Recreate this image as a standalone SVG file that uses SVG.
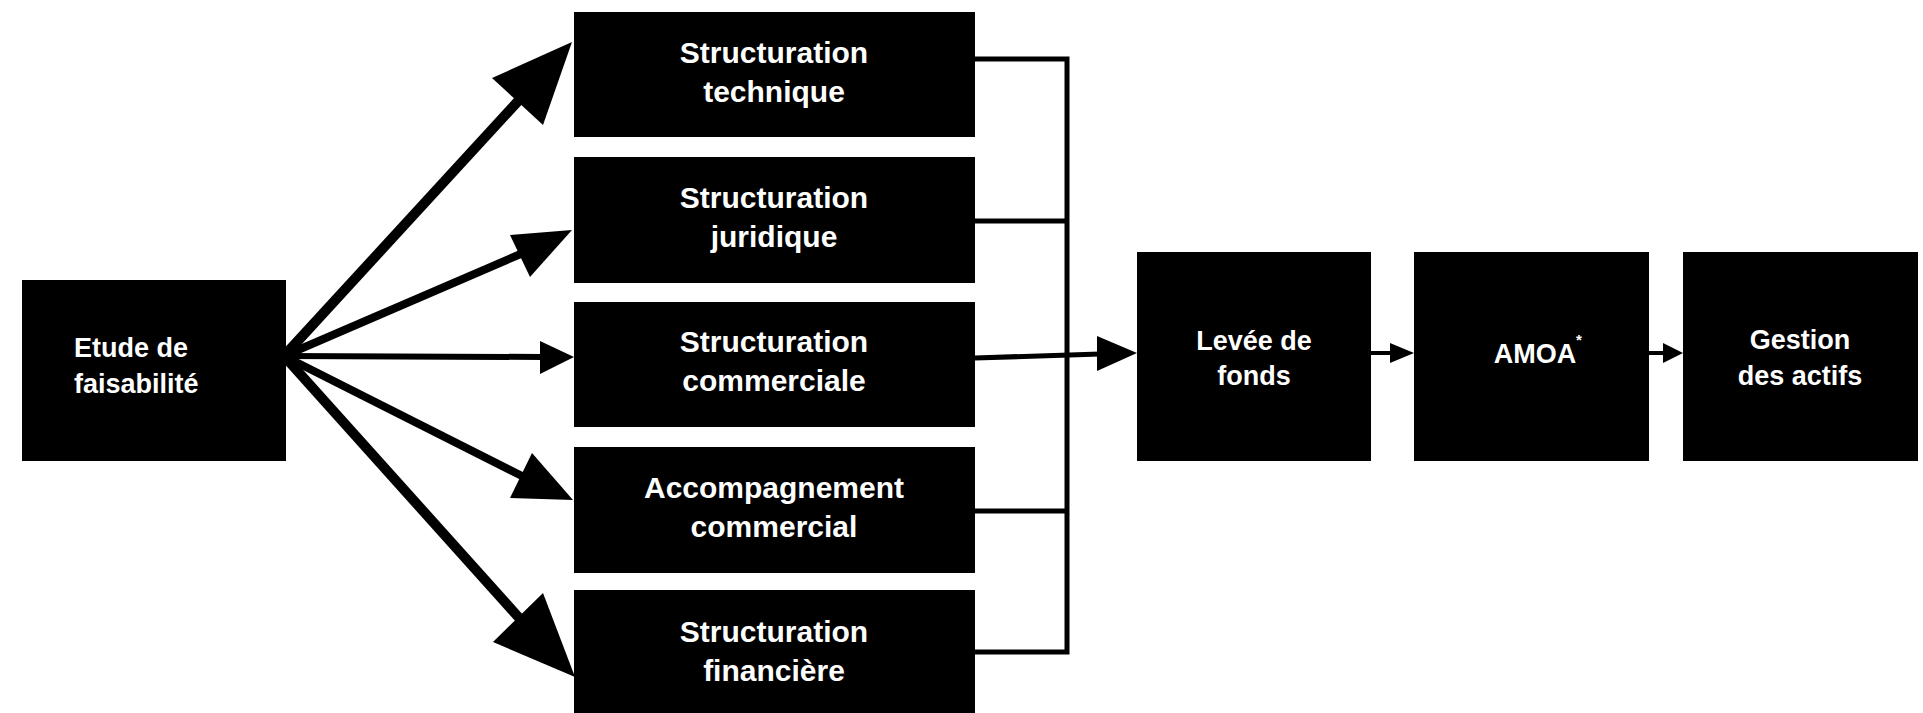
<svg xmlns="http://www.w3.org/2000/svg" width="1923" height="713" viewBox="0 0 1923 713">
<style>
.box{fill:#000}
.t{font-family:"Liberation Sans",Arial,Helvetica,sans-serif;font-weight:bold;fill:#fff;text-anchor:middle}
.m{font-size:30px}
.s{font-size:27px}
.ln{stroke:#000;fill:none;stroke-linecap:butt}
.hd{fill:#000}
</style>
<rect width="1923" height="713" fill="#fff"/>
<g id="connectors">
  <line class="ln" x1="284" y1="356" x2="520" y2="99" stroke-width="10"/>
  <polygon class="hd" points="572,42 492,78 543,125"/>
  <line class="ln" x1="284" y1="356" x2="523" y2="253" stroke-width="8"/>
  <polygon class="hd" points="572,230 510,235 530,277"/>
  <line class="ln" x1="284" y1="356" x2="542" y2="357" stroke-width="6"/>
  <polygon class="hd" points="574,357 540,341 540,374"/>
  <line class="ln" x1="284" y1="356" x2="524" y2="477" stroke-width="8"/>
  <polygon class="hd" points="573,500 532,453 510,498"/>
  <line class="ln" x1="284" y1="356" x2="521" y2="620" stroke-width="10"/>
  <polygon class="hd" points="575,677 543,593 493,642"/>
  <path class="ln" stroke-width="5" d="M975,59 H1067 V652 H975 M975,221 H1067 M975,511 H1067"/>
  <line class="ln" x1="975" y1="358" x2="1100" y2="354" stroke-width="5"/>
  <polygon class="hd" points="1137,353 1097,336 1097,371"/>
  <line class="ln" x1="1371" y1="353" x2="1393" y2="353" stroke-width="4"/>
  <polygon class="hd" points="1414,353 1390,343 1390,363"/>
  <line class="ln" x1="1649" y1="353" x2="1666" y2="353" stroke-width="4"/>
  <polygon class="hd" points="1683,353 1663,343 1663,363"/>
</g>
<g id="etude">
  <rect class="box" x="22" y="280" width="264" height="181"/>
  <text class="t s" style="text-anchor:start" x="74" y="357">Etude de</text>
  <text class="t s" style="text-anchor:start" x="74" y="393">faisabilité</text>
</g>
<g id="technique">
  <rect class="box" x="574" y="12" width="401" height="125"/>
  <text class="t m" x="774" y="63">Structuration</text>
  <text class="t m" x="774" y="102">technique</text>
</g>
<g id="juridique">
  <rect class="box" x="574" y="157" width="401" height="126"/>
  <text class="t m" x="774" y="208">Structuration</text>
  <text class="t m" x="774" y="247">juridique</text>
</g>
<g id="commerciale">
  <rect class="box" x="574" y="302" width="401" height="125"/>
  <text class="t m" x="774" y="352">Structuration</text>
  <text class="t m" x="774" y="391">commerciale</text>
</g>
<g id="accompagnement">
  <rect class="box" x="574" y="447" width="401" height="126"/>
  <text class="t m" x="774" y="498">Accompagnement</text>
  <text class="t m" x="774" y="537">commercial</text>
</g>
<g id="financiere">
  <rect class="box" x="574" y="590" width="401" height="127"/>
  <text class="t m" x="774" y="642">Structuration</text>
  <text class="t m" x="774" y="681">financière</text>
</g>
<g id="levee">
  <rect class="box" x="1137" y="252" width="234" height="209"/>
  <text class="t s" x="1254" y="350">Levée de</text>
  <text class="t s" x="1254" y="385">fonds</text>
</g>
<g id="amoa">
  <rect class="box" x="1414" y="252" width="235" height="209"/>
  <text class="t s" x="1535" y="363">AMOA</text>
  <text class="t" style="font-size:15px;text-anchor:start" x="1576" y="345">*</text>
</g>
<g id="gestion">
  <rect class="box" x="1683" y="252" width="235" height="209"/>
  <text class="t s" x="1800" y="349">Gestion</text>
  <text class="t s" x="1800" y="385">des actifs</text>
</g>
</svg>
